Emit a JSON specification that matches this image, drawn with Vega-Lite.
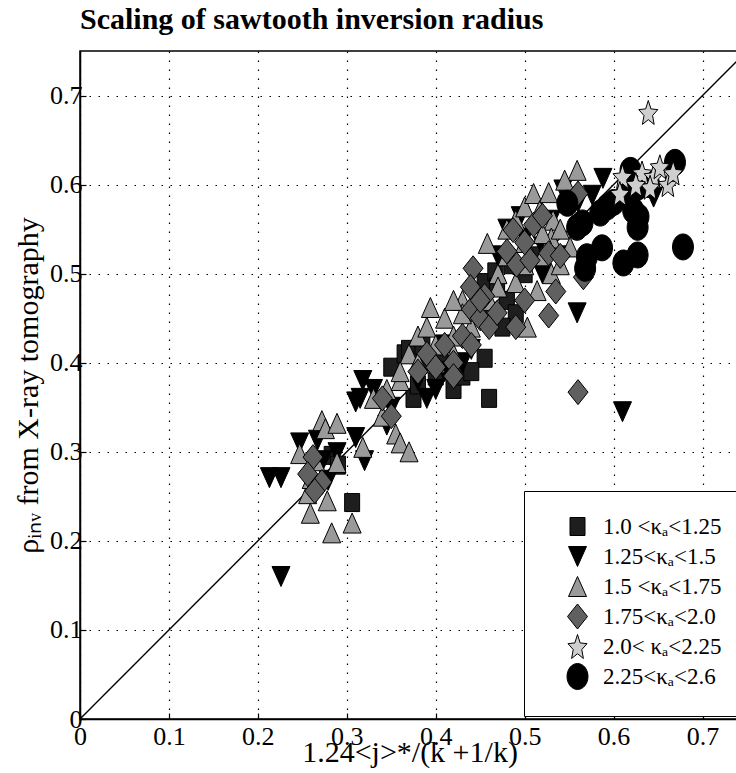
{
  "$schema": "https://vega.github.io/schema/vega-lite/v6.json",
  "width": 659,
  "height": 668,
  "autosize": {"type": "none"},
  "padding": {"left": 80, "top": 51, "right": 0, "bottom": 54},
  "background": "white",
  "title": {"text": "Scaling of sawtooth inversion radius", "anchor": "start", "frame": "group", "font": "Liberation Serif", "fontSize": 30, "fontWeight": "bold", "color": "black", "offset": 16},
  "config": {
    "view": {"stroke": "black", "strokeWidth": 1.5},
    "axis": {
      "labelFont": "Liberation Serif", "labelFontSize": 26, "labelColor": "black",
      "titleFont": "Liberation Serif", "titleFontSize": 30, "titleFontWeight": "normal", "titleColor": "black",
      "domainColor": "black", "domainWidth": 1.5,
      "ticks": true, "tickSize": -6, "tickColor": "black", "tickWidth": 1.2,
      "grid": true, "gridColor": "black", "gridDash": [1.5, 7.5], "gridWidth": 1.2, "gridOpacity": 1
    },
    "legend": {
      "orient": "none", "legendX": 444, "legendY": 440,
      "title": null,
      "strokeColor": "black", "fillColor": "white", "padding": 24,
      "labelFont": "Liberation Serif", "labelFontSize": 23, "labelColor": "black",
      "symbolSize": 100, "symbolStrokeColor": "black", "symbolStrokeWidth": 1,
      "symbolOffset": 18, "labelOffset": 14, "rowPadding": -1, "gridAlign": "all"
    }
  },
  "datasets": {
    "diag": [{"x": 0, "y": 0}, {"x": 0.75, "y": 0.75}],
    "pts": [
      {"x": 0.306, "y": 0.243, "k": "1.0 <κₐ<1.25"},
      {"x": 0.283, "y": 0.296, "k": "1.0 <κₐ<1.25"},
      {"x": 0.29, "y": 0.285, "k": "1.0 <κₐ<1.25"},
      {"x": 0.35, "y": 0.395, "k": "1.0 <κₐ<1.25"},
      {"x": 0.365, "y": 0.41, "k": "1.0 <κₐ<1.25"},
      {"x": 0.37, "y": 0.415, "k": "1.0 <κₐ<1.25"},
      {"x": 0.385, "y": 0.42, "k": "1.0 <κₐ<1.25"},
      {"x": 0.375, "y": 0.36, "k": "1.0 <κₐ<1.25"},
      {"x": 0.38, "y": 0.375, "k": "1.0 <κₐ<1.25"},
      {"x": 0.39, "y": 0.40, "k": "1.0 <κₐ<1.25"},
      {"x": 0.40, "y": 0.385, "k": "1.0 <κₐ<1.25"},
      {"x": 0.405, "y": 0.405, "k": "1.0 <κₐ<1.25"},
      {"x": 0.42, "y": 0.37, "k": "1.0 <κₐ<1.25"},
      {"x": 0.43, "y": 0.385, "k": "1.0 <κₐ<1.25"},
      {"x": 0.455, "y": 0.405, "k": "1.0 <κₐ<1.25"},
      {"x": 0.46, "y": 0.36, "k": "1.0 <κₐ<1.25"},
      {"x": 0.44, "y": 0.39, "k": "1.0 <κₐ<1.25"},
      {"x": 0.455, "y": 0.49, "k": "1.0 <κₐ<1.25"},
      {"x": 0.467, "y": 0.502, "k": "1.0 <κₐ<1.25"},
      {"x": 0.469, "y": 0.485, "k": "1.0 <κₐ<1.25"},
      {"x": 0.48, "y": 0.47, "k": "1.0 <κₐ<1.25"},
      {"x": 0.49, "y": 0.455, "k": "1.0 <κₐ<1.25"},
      {"x": 0.50, "y": 0.50, "k": "1.0 <κₐ<1.25"},
      {"x": 0.51, "y": 0.52, "k": "1.0 <κₐ<1.25"},
      {"x": 0.485, "y": 0.51, "k": "1.0 <κₐ<1.25"},
      {"x": 0.475, "y": 0.44, "k": "1.0 <κₐ<1.25"},

      {"x": 0.213, "y": 0.271, "k": "1.25<κₐ<1.5"},
      {"x": 0.226, "y": 0.271, "k": "1.25<κₐ<1.5"},
      {"x": 0.226, "y": 0.16, "k": "1.25<κₐ<1.5"},
      {"x": 0.247, "y": 0.31, "k": "1.25<κₐ<1.5"},
      {"x": 0.267, "y": 0.313, "k": "1.25<κₐ<1.5"},
      {"x": 0.273, "y": 0.29, "k": "1.25<κₐ<1.5"},
      {"x": 0.279, "y": 0.268, "k": "1.25<κₐ<1.5"},
      {"x": 0.289, "y": 0.299, "k": "1.25<κₐ<1.5"},
      {"x": 0.31, "y": 0.316, "k": "1.25<κₐ<1.5"},
      {"x": 0.32, "y": 0.29, "k": "1.25<κₐ<1.5"},
      {"x": 0.31, "y": 0.356, "k": "1.25<κₐ<1.5"},
      {"x": 0.315, "y": 0.36, "k": "1.25<κₐ<1.5"},
      {"x": 0.318, "y": 0.38, "k": "1.25<κₐ<1.5"},
      {"x": 0.33, "y": 0.37, "k": "1.25<κₐ<1.5"},
      {"x": 0.345, "y": 0.33, "k": "1.25<κₐ<1.5"},
      {"x": 0.35, "y": 0.35, "k": "1.25<κₐ<1.5"},
      {"x": 0.38, "y": 0.38, "k": "1.25<κₐ<1.5"},
      {"x": 0.39, "y": 0.36, "k": "1.25<κₐ<1.5"},
      {"x": 0.40, "y": 0.37, "k": "1.25<κₐ<1.5"},
      {"x": 0.41, "y": 0.39, "k": "1.25<κₐ<1.5"},
      {"x": 0.43, "y": 0.40, "k": "1.25<κₐ<1.5"},
      {"x": 0.44, "y": 0.415, "k": "1.25<κₐ<1.5"},
      {"x": 0.41, "y": 0.42, "k": "1.25<κₐ<1.5"},
      {"x": 0.47, "y": 0.52, "k": "1.25<κₐ<1.5"},
      {"x": 0.48, "y": 0.55, "k": "1.25<κₐ<1.5"},
      {"x": 0.495, "y": 0.564, "k": "1.25<κₐ<1.5"},
      {"x": 0.50, "y": 0.54, "k": "1.25<κₐ<1.5"},
      {"x": 0.52, "y": 0.53, "k": "1.25<κₐ<1.5"},
      {"x": 0.53, "y": 0.56, "k": "1.25<κₐ<1.5"},
      {"x": 0.52, "y": 0.50, "k": "1.25<κₐ<1.5"},
      {"x": 0.54, "y": 0.52, "k": "1.25<κₐ<1.5"},
      {"x": 0.543, "y": 0.594, "k": "1.25<κₐ<1.5"},
      {"x": 0.56, "y": 0.58, "k": "1.25<κₐ<1.5"},
      {"x": 0.576, "y": 0.588, "k": "1.25<κₐ<1.5"},
      {"x": 0.588, "y": 0.607, "k": "1.25<κₐ<1.5"},
      {"x": 0.645, "y": 0.586, "k": "1.25<κₐ<1.5"},
      {"x": 0.559, "y": 0.456, "k": "1.25<κₐ<1.5"},
      {"x": 0.61, "y": 0.345, "k": "1.25<κₐ<1.5"},

      {"x": 0.247, "y": 0.298, "k": "1.5 <κₐ<1.75"},
      {"x": 0.256, "y": 0.253, "k": "1.5 <κₐ<1.75"},
      {"x": 0.259, "y": 0.231, "k": "1.5 <κₐ<1.75"},
      {"x": 0.278, "y": 0.245, "k": "1.5 <κₐ<1.75"},
      {"x": 0.283, "y": 0.209, "k": "1.5 <κₐ<1.75"},
      {"x": 0.306, "y": 0.22, "k": "1.5 <κₐ<1.75"},
      {"x": 0.272, "y": 0.335, "k": "1.5 <κₐ<1.75"},
      {"x": 0.276, "y": 0.326, "k": "1.5 <κₐ<1.75"},
      {"x": 0.289, "y": 0.332, "k": "1.5 <κₐ<1.75"},
      {"x": 0.289, "y": 0.288, "k": "1.5 <κₐ<1.75"},
      {"x": 0.318, "y": 0.305, "k": "1.5 <κₐ<1.75"},
      {"x": 0.26, "y": 0.27, "k": "1.5 <κₐ<1.75"},
      {"x": 0.265, "y": 0.29, "k": "1.5 <κₐ<1.75"},
      {"x": 0.33, "y": 0.36, "k": "1.5 <κₐ<1.75"},
      {"x": 0.34, "y": 0.34, "k": "1.5 <κₐ<1.75"},
      {"x": 0.355, "y": 0.32, "k": "1.5 <κₐ<1.75"},
      {"x": 0.36, "y": 0.31, "k": "1.5 <κₐ<1.75"},
      {"x": 0.37, "y": 0.30, "k": "1.5 <κₐ<1.75"},
      {"x": 0.345, "y": 0.37, "k": "1.5 <κₐ<1.75"},
      {"x": 0.36, "y": 0.38, "k": "1.5 <κₐ<1.75"},
      {"x": 0.37, "y": 0.41, "k": "1.5 <κₐ<1.75"},
      {"x": 0.38, "y": 0.43, "k": "1.5 <κₐ<1.75"},
      {"x": 0.39, "y": 0.44, "k": "1.5 <κₐ<1.75"},
      {"x": 0.40, "y": 0.42, "k": "1.5 <κₐ<1.75"},
      {"x": 0.41, "y": 0.45, "k": "1.5 <κₐ<1.75"},
      {"x": 0.42, "y": 0.43, "k": "1.5 <κₐ<1.75"},
      {"x": 0.43, "y": 0.47, "k": "1.5 <κₐ<1.75"},
      {"x": 0.44, "y": 0.44, "k": "1.5 <κₐ<1.75"},
      {"x": 0.45, "y": 0.46, "k": "1.5 <κₐ<1.75"},
      {"x": 0.36, "y": 0.39, "k": "1.5 <κₐ<1.75"},
      {"x": 0.38, "y": 0.40, "k": "1.5 <κₐ<1.75"},
      {"x": 0.40, "y": 0.40, "k": "1.5 <κₐ<1.75"},
      {"x": 0.42, "y": 0.41, "k": "1.5 <κₐ<1.75"},
      {"x": 0.43, "y": 0.455, "k": "1.5 <κₐ<1.75"},
      {"x": 0.394, "y": 0.462, "k": "1.5 <κₐ<1.75"},
      {"x": 0.42, "y": 0.47, "k": "1.5 <κₐ<1.75"},
      {"x": 0.458, "y": 0.534, "k": "1.5 <κₐ<1.75"},
      {"x": 0.48, "y": 0.55, "k": "1.5 <κₐ<1.75"},
      {"x": 0.49, "y": 0.56, "k": "1.5 <κₐ<1.75"},
      {"x": 0.50, "y": 0.575, "k": "1.5 <κₐ<1.75"},
      {"x": 0.51, "y": 0.59, "k": "1.5 <κₐ<1.75"},
      {"x": 0.517, "y": 0.571, "k": "1.5 <κₐ<1.75"},
      {"x": 0.514, "y": 0.557, "k": "1.5 <κₐ<1.75"},
      {"x": 0.527, "y": 0.591, "k": "1.5 <κₐ<1.75"},
      {"x": 0.532, "y": 0.56, "k": "1.5 <κₐ<1.75"},
      {"x": 0.559, "y": 0.616, "k": "1.5 <κₐ<1.75"},
      {"x": 0.551, "y": 0.53, "k": "1.5 <κₐ<1.75"},
      {"x": 0.514, "y": 0.481, "k": "1.5 <κₐ<1.75"},
      {"x": 0.503, "y": 0.44, "k": "1.5 <κₐ<1.75"},
      {"x": 0.47, "y": 0.50, "k": "1.5 <κₐ<1.75"},
      {"x": 0.48, "y": 0.52, "k": "1.5 <κₐ<1.75"},
      {"x": 0.49, "y": 0.49, "k": "1.5 <κₐ<1.75"},
      {"x": 0.50, "y": 0.51, "k": "1.5 <κₐ<1.75"},
      {"x": 0.52, "y": 0.52, "k": "1.5 <κₐ<1.75"},
      {"x": 0.53, "y": 0.50, "k": "1.5 <κₐ<1.75"},
      {"x": 0.54, "y": 0.51, "k": "1.5 <κₐ<1.75"},
      {"x": 0.46, "y": 0.47, "k": "1.5 <κₐ<1.75"},
      {"x": 0.47, "y": 0.485, "k": "1.5 <κₐ<1.75"},
      {"x": 0.53, "y": 0.54, "k": "1.5 <κₐ<1.75"},
      {"x": 0.54, "y": 0.55, "k": "1.5 <κₐ<1.75"},
      {"x": 0.50, "y": 0.535, "k": "1.5 <κₐ<1.75"},
      {"x": 0.52, "y": 0.545, "k": "1.5 <κₐ<1.75"},
      {"x": 0.545, "y": 0.605, "k": "1.5 <κₐ<1.75"},

      {"x": 0.262, "y": 0.294, "k": "1.75<κₐ<2.0"},
      {"x": 0.256, "y": 0.275, "k": "1.75<κₐ<2.0"},
      {"x": 0.272, "y": 0.266, "k": "1.75<κₐ<2.0"},
      {"x": 0.264, "y": 0.256, "k": "1.75<κₐ<2.0"},
      {"x": 0.34, "y": 0.36, "k": "1.75<κₐ<2.0"},
      {"x": 0.35, "y": 0.34, "k": "1.75<κₐ<2.0"},
      {"x": 0.38, "y": 0.39, "k": "1.75<κₐ<2.0"},
      {"x": 0.39, "y": 0.41, "k": "1.75<κₐ<2.0"},
      {"x": 0.40, "y": 0.395, "k": "1.75<κₐ<2.0"},
      {"x": 0.41, "y": 0.42, "k": "1.75<κₐ<2.0"},
      {"x": 0.42, "y": 0.40, "k": "1.75<κₐ<2.0"},
      {"x": 0.43, "y": 0.43, "k": "1.75<κₐ<2.0"},
      {"x": 0.44, "y": 0.46, "k": "1.75<κₐ<2.0"},
      {"x": 0.45, "y": 0.45, "k": "1.75<κₐ<2.0"},
      {"x": 0.42, "y": 0.385, "k": "1.75<κₐ<2.0"},
      {"x": 0.44, "y": 0.42, "k": "1.75<κₐ<2.0"},
      {"x": 0.46, "y": 0.44, "k": "1.75<κₐ<2.0"},
      {"x": 0.455, "y": 0.475, "k": "1.75<κₐ<2.0"},
      {"x": 0.487, "y": 0.549, "k": "1.75<κₐ<2.0"},
      {"x": 0.56, "y": 0.59, "k": "1.75<κₐ<2.0"},
      {"x": 0.442, "y": 0.506, "k": "1.75<κₐ<2.0"},
      {"x": 0.439, "y": 0.485, "k": "1.75<κₐ<2.0"},
      {"x": 0.527, "y": 0.523, "k": "1.75<κₐ<2.0"},
      {"x": 0.491, "y": 0.51, "k": "1.75<κₐ<2.0"},
      {"x": 0.506, "y": 0.515, "k": "1.75<κₐ<2.0"},
      {"x": 0.566, "y": 0.496, "k": "1.75<κₐ<2.0"},
      {"x": 0.527, "y": 0.453, "k": "1.75<κₐ<2.0"},
      {"x": 0.45, "y": 0.47, "k": "1.75<κₐ<2.0"},
      {"x": 0.469, "y": 0.456, "k": "1.75<κₐ<2.0"},
      {"x": 0.50, "y": 0.535, "k": "1.75<κₐ<2.0"},
      {"x": 0.51, "y": 0.555, "k": "1.75<κₐ<2.0"},
      {"x": 0.48, "y": 0.525, "k": "1.75<κₐ<2.0"},
      {"x": 0.52, "y": 0.565, "k": "1.75<κₐ<2.0"},
      {"x": 0.49, "y": 0.44, "k": "1.75<κₐ<2.0"},
      {"x": 0.50, "y": 0.47, "k": "1.75<κₐ<2.0"},
      {"x": 0.54, "y": 0.52, "k": "1.75<κₐ<2.0"},
      {"x": 0.56, "y": 0.367, "k": "1.75<κₐ<2.0"},
      {"x": 0.535, "y": 0.48, "k": "1.75<κₐ<2.0"},

      {"x": 0.669, "y": 0.625, "k": "2.25<κₐ<2.6"},
      {"x": 0.619, "y": 0.616, "k": "2.25<κₐ<2.6"},
      {"x": 0.678, "y": 0.53, "k": "2.25<κₐ<2.6"},
      {"x": 0.627, "y": 0.521, "k": "2.25<κₐ<2.6"},
      {"x": 0.611, "y": 0.512, "k": "2.25<κₐ<2.6"},
      {"x": 0.587, "y": 0.529, "k": "2.25<κₐ<2.6"},
      {"x": 0.570, "y": 0.519, "k": "2.25<κₐ<2.6"},
      {"x": 0.568, "y": 0.506, "k": "2.25<κₐ<2.6"},
      {"x": 0.628, "y": 0.564, "k": "2.25<κₐ<2.6"},
      {"x": 0.627, "y": 0.552, "k": "2.25<κₐ<2.6"},
      {"x": 0.622, "y": 0.571, "k": "2.25<κₐ<2.6"},
      {"x": 0.565, "y": 0.557, "k": "2.25<κₐ<2.6"},
      {"x": 0.585, "y": 0.568, "k": "2.25<κₐ<2.6"},
      {"x": 0.593, "y": 0.575, "k": "2.25<κₐ<2.6"},
      {"x": 0.548, "y": 0.579, "k": "2.25<κₐ<2.6"},
      {"x": 0.559, "y": 0.552, "k": "2.25<κₐ<2.6"},
      {"x": 0.615, "y": 0.59, "k": "2.25<κₐ<2.6"},
      {"x": 0.627, "y": 0.597, "k": "2.25<κₐ<2.6"},
      {"x": 0.60, "y": 0.58, "k": "2.25<κₐ<2.6"},
      {"x": 0.64, "y": 0.60, "k": "2.25<κₐ<2.6"},

      {"x": 0.639, "y": 0.681, "k": "2.0< κₐ<2.25"},
      {"x": 0.61, "y": 0.609, "k": "2.0< κₐ<2.25"},
      {"x": 0.607, "y": 0.59, "k": "2.0< κₐ<2.25"},
      {"x": 0.632, "y": 0.613, "k": "2.0< κₐ<2.25"},
      {"x": 0.645, "y": 0.609, "k": "2.0< κₐ<2.25"},
      {"x": 0.652, "y": 0.62, "k": "2.0< κₐ<2.25"},
      {"x": 0.641, "y": 0.597, "k": "2.0< κₐ<2.25"},
      {"x": 0.661, "y": 0.6, "k": "2.0< κₐ<2.25"},
      {"x": 0.667, "y": 0.613, "k": "2.0< κₐ<2.25"},
      {"x": 0.625, "y": 0.6, "k": "2.0< κₐ<2.25"}
    ]
  },
  "encoding": {
    "x": {"field": "x", "type": "quantitative",
      "scale": {"domain": [0, 0.741], "nice": false, "zero": false},
      "axis": {"values": [0, 0.1, 0.2, 0.3, 0.4, 0.5, 0.6, 0.7], "format": ".1~f", "labelPadding": 10, "title": "1.24<j>*/(k +1/k)", "titlePadding": -12, "labelFlush": false}},
    "y": {"field": "y", "type": "quantitative",
      "scale": {"domain": [0, 0.75], "nice": false, "zero": false},
      "axis": {"values": [0, 0.1, 0.2, 0.3, 0.4, 0.5, 0.6, 0.7], "format": ".1~f", "labelPadding": 4, "title": "ρᵢₙᵥ from X-ray tomography", "titlePadding": 6, "labelFlush": false}}
  },
  "layer": [
    {
      "data": {"name": "diag"},
      "mark": {"type": "line", "color": "black", "strokeWidth": 1.4, "clip": true}
    },
    {
      "data": {"name": "pts"},
      "mark": {"type": "point", "filled": true, "stroke": "black", "strokeWidth": 1, "opacity": 1, "size": 100, "clip": true},
      "encoding": {
        "shape": {"field": "k", "type": "nominal",
          "scale": {"domain": ["1.0 <κₐ<1.25", "1.25<κₐ<1.5", "1.5 <κₐ<1.75", "1.75<κₐ<2.0", "2.0< κₐ<2.25", "2.25<κₐ<2.6"],
            "range": [
              "M-1.5,-1.8H1.5V1.8H-1.5Z",
              "M0,2L1.8,-2L-1.8,-2Z",
              "M0,-2L1.8,2L-1.8,2Z",
              "M0,-2.5L2,0L0,2.5L-2,0Z",
              "M0,-2.4L0.529,-0.715L1.902,-0.569L0.856,0.618L1.176,2.394L0,1.443L-1.176,2.394L-0.856,0.618L-1.902,-0.569L-0.529,-0.715Z",
              "M0,-2.6A2.1,2.6 0 1,1 0,2.6A2.1,2.6 0 1,1 0,-2.6Z"
            ]}},
        "color": {"field": "k", "type": "nominal",
          "scale": {"domain": ["1.0 <κₐ<1.25", "1.25<κₐ<1.5", "1.5 <κₐ<1.75", "1.75<κₐ<2.0", "2.0< κₐ<2.25", "2.25<κₐ<2.6"],
            "range": ["#1e1e1e", "#000000", "#9a9a9a", "#606060", "#cfcfcf", "#000000"]}}
      }
    }
  ]
}
